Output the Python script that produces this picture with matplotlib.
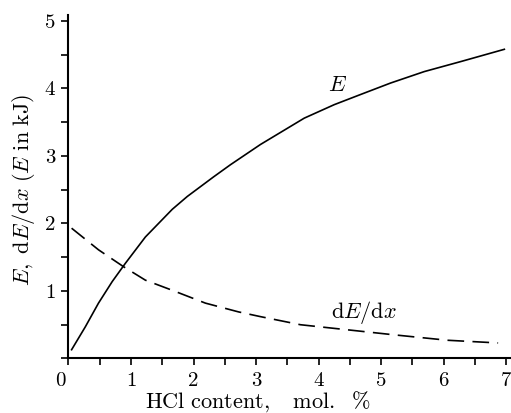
import matplotlib
matplotlib.use("Agg")
import matplotlib.pyplot as plt
import matplotlib.transforms as mtransforms
from matplotlib.ticker import MultipleLocator

# values

# E curve (kJ)
e_x = [0.05, 0.27, 0.48, 0.70, 0.91, 1.23, 1.66, 1.90, 2.32, 2.59, 3.07, 3.77, 4.25, 4.67,
       5.15, 5.69, 6.28, 6.97]
e_y = [0.13, 0.47, 0.82, 1.14, 1.41, 1.80, 2.21, 2.40, 2.69, 2.87, 3.17, 3.56, 3.76, 3.91,
       4.08, 4.25, 4.40, 4.58]

# dE/dx curve
d_x = [0.05, 0.48, 0.88, 1.23, 1.66, 2.19, 2.72, 3.07, 3.71, 4.41, 5.21, 6.06, 6.87]
d_y = [1.93, 1.61, 1.36, 1.16, 1.01, 0.82, 0.69, 0.62, 0.50, 0.43, 0.35, 0.27, 0.23]

x_ticks = [0, 1, 2, 3, 4, 5, 6, 7]
y_ticks = [1, 2, 3, 4, 5]

plt.rcParams["font.family"] = "cmr10"
plt.rcParams["mathtext.fontset"] = "cm"
plt.rcParams["axes.formatter.use_mathtext"] = True

fig = plt.figure(figsize=(5.11, 4.13), dpi=100)
ax = fig.add_axes([0.134, 0.132, 0.864, 0.832])

ax.plot(e_x, e_y, color="black", lw=1.2)
ax.plot(d_x, d_y, color="black", lw=1.2, dashes=(10, 5))

ax.text(4.30, 4.05, "$E$", fontsize=16, ha="center", va="center")
ax.text(4.73, 0.68, r"$\mathrm{d}E/\mathrm{d}x$", fontsize=16, ha="center", va="center")

ax.set_xlim(0, 7.06)
ax.set_ylim(0, 5.09)
ax.set_xticks(x_ticks)
ax.set_xticklabels([str(t) for t in x_ticks])
ax.set_yticks(y_ticks)
ax.set_yticklabels([str(t) for t in y_ticks])
ax.xaxis.set_minor_locator(MultipleLocator(0.5))
ax.yaxis.set_minor_locator(MultipleLocator(0.5))

for s in ["top", "right"]:
    ax.spines[s].set_visible(False)
for s in ["left", "bottom"]:
    ax.spines[s].set_linewidth(1.5)

ax.tick_params(which="both", direction="out", length=5, width=1.2, labelsize=15, pad=4.5)

# the 0 sits a bit left of the origin
lbl0 = ax.get_xticklabels()[0]
lbl0.set_transform(lbl0.get_transform() + mtransforms.ScaledTranslation(-8 / 100, 0, fig.dpi_scale_trans))

ax.set_ylabel(r"$E,\ \mathrm{d}E/\mathrm{d}x\ (E\ \mathrm{in\ kJ})$", fontsize=16)
ax.yaxis.set_label_coords(-0.071, 0.49)
ax.set_xlabel(r"$\mathrm{HCl\ content,\ \ \ mol.\ \ \%}$", fontsize=16)
ax.xaxis.set_label_coords(0.43, -0.088)

fig.savefig("out.png", dpi=100)
